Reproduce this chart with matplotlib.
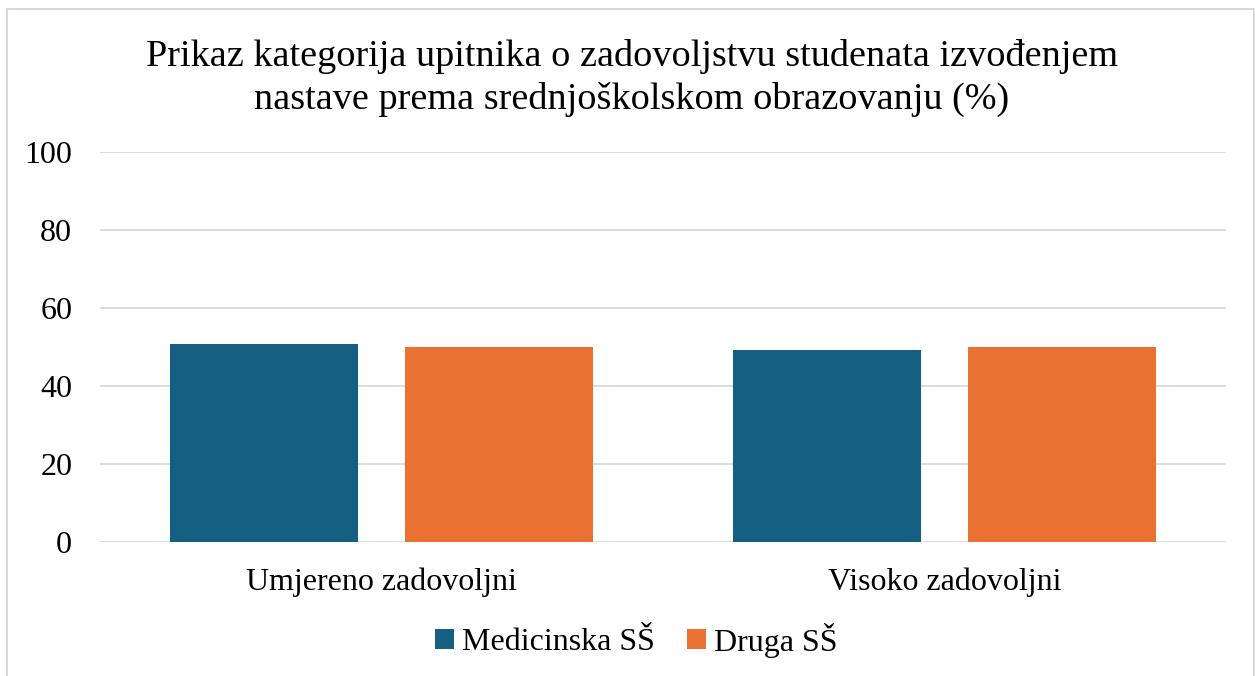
import matplotlib
matplotlib.use("Agg")
import numpy as np
import matplotlib.pyplot as plt
from matplotlib.patches import Rectangle

plt.rcParams["font.family"] = ["Liberation Serif", "DejaVu Serif"]

categories = ["Umjereno zadovoljni", "Visoko zadovoljni"]
series_names = ["Medicinska SŠ", "Druga SŠ"]
medicinska = [50.8, 49.2]
druga = [50.0, 50.0]
colors = ["#156082", "#E97132"]

W, H = 1255, 676
fig = plt.figure(figsize=(W / 100, H / 100), dpi=100)
ax = fig.add_axes([100 / W, 1 - 542.3 / H, 1126 / W, 390 / H])

x = np.arange(len(categories))
bw = 0.334
off = 0.208
ax.bar(x - off, medicinska, bw, color=colors[0], label=series_names[0], zorder=3)
ax.bar(x + off, druga, bw, color=colors[1], label=series_names[1], zorder=3)

ax.set_xlim(-0.5, 1.5)
ax.set_ylim(0, 100)
ax.set_yticks(range(0, 101, 20))
ax.yaxis.grid(True, color="#d9d9d9", linewidth=1.3, zorder=0)
ax.tick_params(axis="both", length=0, labelsize=23, colors="black")
ax.tick_params(axis="y", pad=20)
ax.tick_params(axis="x", pad=18)
ax.set_xticks(x)
ax.set_xticklabels(categories)
for s in ax.spines.values():
    s.set_visible(False)

fig.text(632 / W, 1 - 78 / H,
         "Prikaz kategorija upitnika o zadovoljstvu studenata izvođenjem\n"
         "nastave prema srednjoškolskom obrazovanju (%)",
         ha="center", va="center", fontsize=27.5, linespacing=1.28)

leg = fig.legend(loc="center", bbox_to_anchor=(636 / W, 1 - 640 / H), ncol=2,
                 frameon=False, fontsize=23, handlelength=0.6, handleheight=0.6,
                 handletextpad=0.25, columnspacing=1.0)

fig.patches.append(Rectangle((7 / W, -0.05), 1247 / W, 1.05 - 9 / H,
                             transform=fig.transFigure, fill=False,
                             edgecolor="#d9d9d9", linewidth=1.5))

fig.savefig("out.png", dpi=100)
